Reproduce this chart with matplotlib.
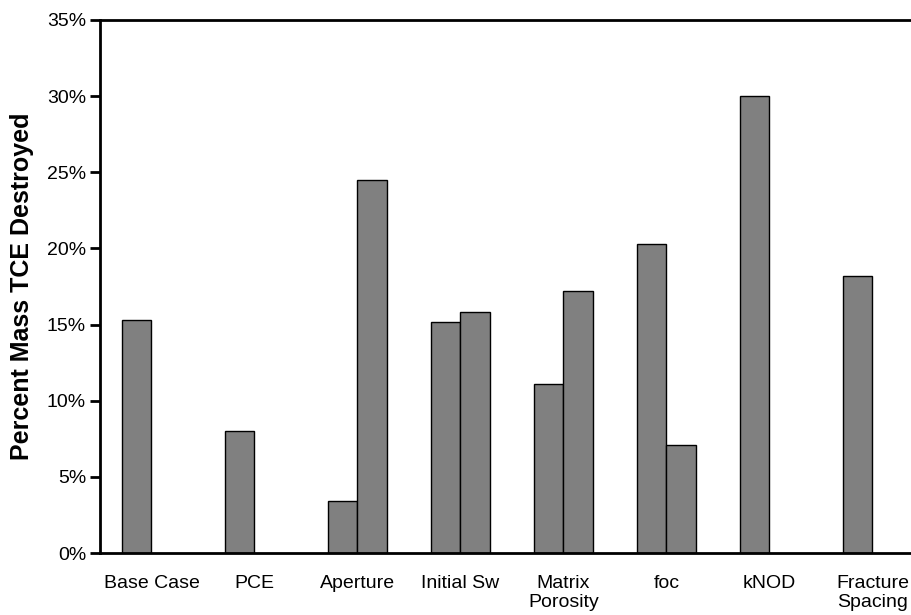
import numpy as np
import matplotlib
matplotlib.use("Agg")
import matplotlib.pyplot as plt
from matplotlib.ticker import PercentFormatter

categories = ["Base Case", "PCE", "Aperture", "Initial Sw", "Matrix\nPorosity",
              "foc", "kNOD", "Fracture\nSpacing"]
# first and second case of each parameter (nan = no bar)
case_1 = [15.3, 8.0, 3.4, 15.2, 11.1, 20.3, 30.0, 18.2]
case_2 = [np.nan, np.nan, 24.5, 15.8, 17.2, 7.1, np.nan, np.nan]
y_ticks = [0, 5, 10, 15, 20, 25, 30, 35]

plt.rcParams["font.family"] = ["Liberation Sans", "DejaVu Sans"]

W, H = 912, 615
fig = plt.figure(figsize=(W / 100, H / 100), dpi=100)
ax = fig.add_axes([100 / W, 62 / H, 824 / W, 533 / H])

x = np.arange(len(categories))
w = 0.286
bar_style = dict(width=w, color="#808080", edgecolor="black", linewidth=1.0)
ax.bar(x - w / 2, case_1, **bar_style)
ax.bar(x + w / 2, case_2, **bar_style)

ax.set_xlim(-0.5, len(categories) - 0.5)
ax.set_ylim(0, 35)
ax.set_yticks(y_ticks)
ax.yaxis.set_major_formatter(PercentFormatter(decimals=0))
ax.set_xticks(x)
ax.set_xticklabels(categories, fontsize=14, va="top", linespacing=1.15)
ax.tick_params(axis="x", length=0, pad=16)
ax.tick_params(axis="y", direction="out", length=7, width=2, labelsize=14, pad=3)

for side in ["left", "bottom", "top"]:
    ax.spines[side].set_linewidth(2)
ax.spines["right"].set_visible(False)

ax.set_ylabel("Percent Mass TCE Destroyed", fontsize=18, fontweight="bold", labelpad=9)

fig.savefig("out.png", dpi=100)
